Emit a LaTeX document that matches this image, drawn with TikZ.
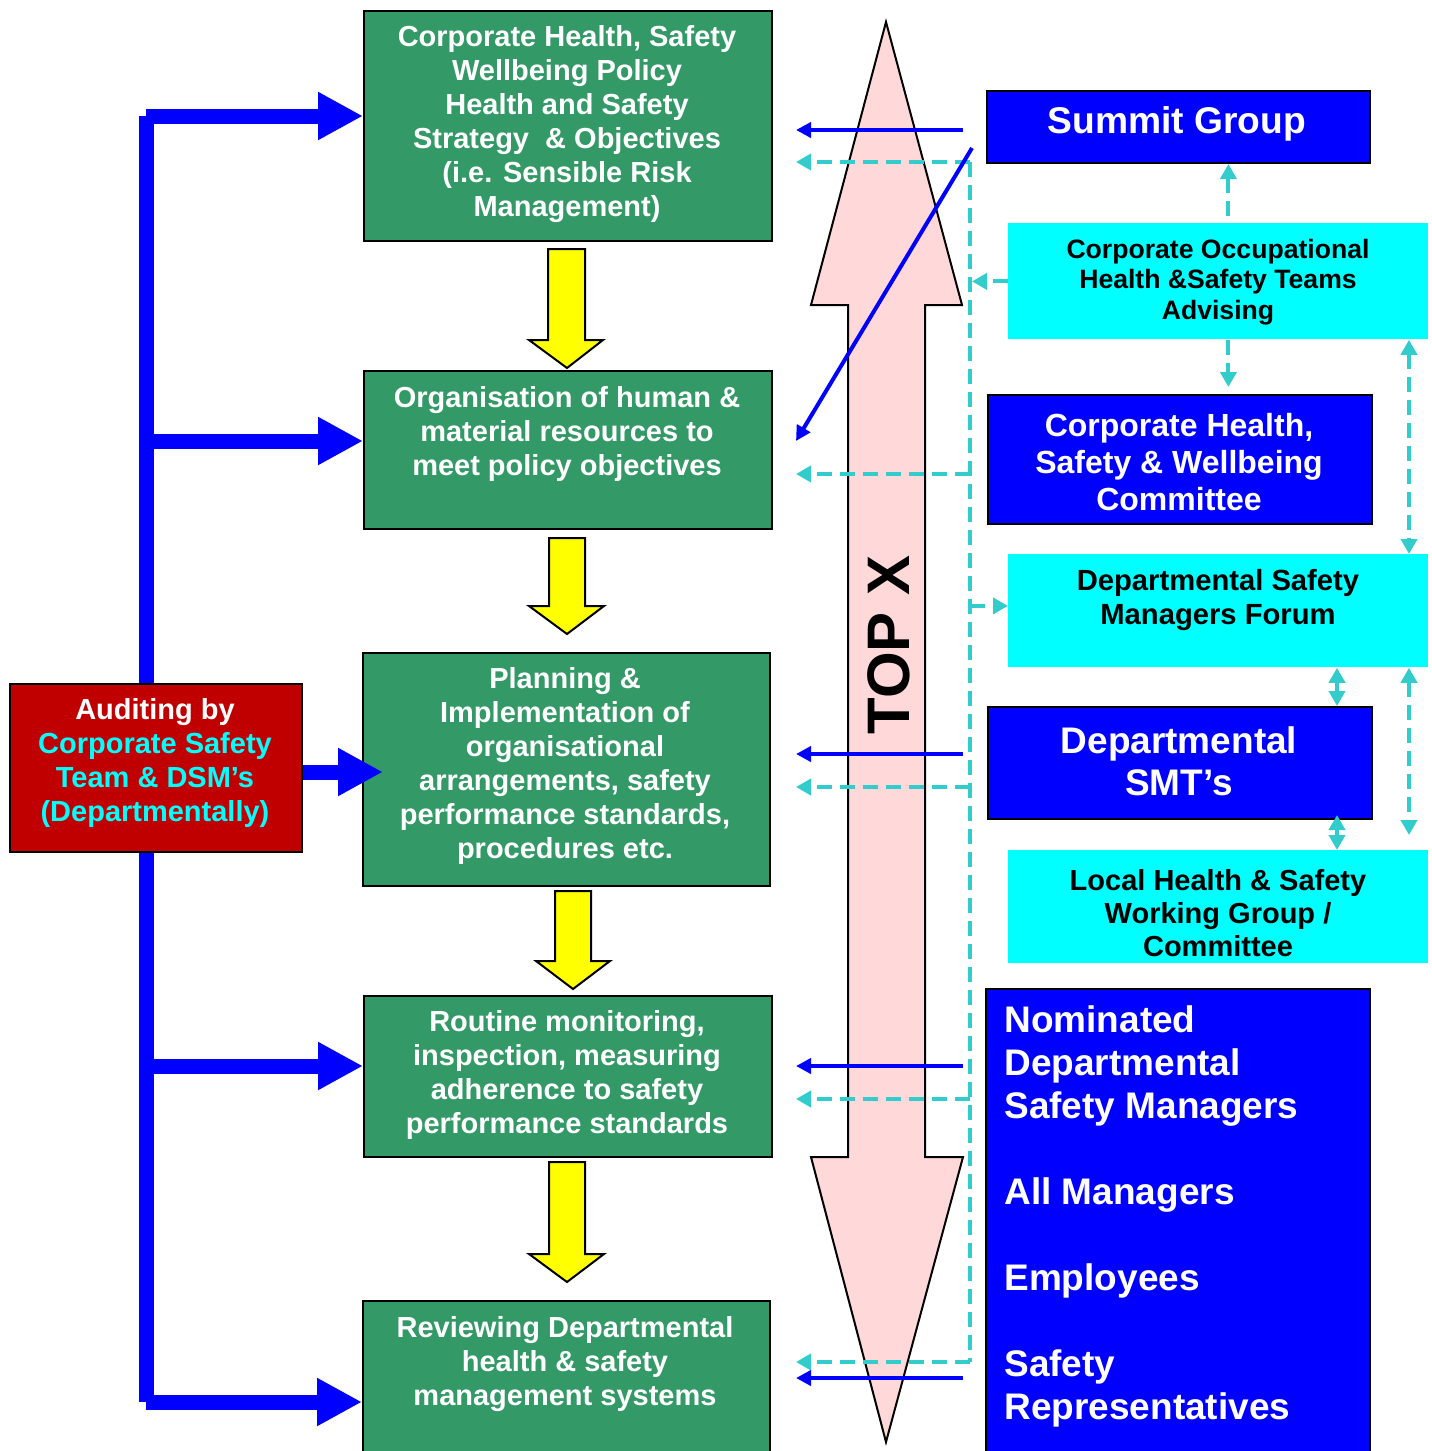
\documentclass[tikz,border=0pt]{standalone}
\usepackage{fontspec}
\setmainfont{Liberation Sans}
\usetikzlibrary{arrows.meta}
\definecolor{boxgreen}{HTML}{339966}
\definecolor{pinkfill}{HTML}{FFD9D9}
\definecolor{dashcyan}{HTML}{33CCCC}
\definecolor{auditred}{HTML}{C00000}
\definecolor{brightcyan}{HTML}{00FFFF}
\definecolor{pureblue}{HTML}{0000FF}
\definecolor{pureyellow}{HTML}{FFFF00}
\begin{document}
\begin{tikzpicture}[x=0.5pt,y=-0.5pt,
  gbox/.style={draw=black,line width=1pt,fill=boxgreen,anchor=north west,inner sep=0pt},
  bbox/.style={draw=black,line width=1pt,fill=pureblue,anchor=north west,inner sep=0pt},
  cbox/.style={fill=brightcyan,anchor=north west,inner sep=0pt},
  rbox/.style={draw=black,line width=1pt,fill=auditred,anchor=north west,inner sep=0pt},
  gtext/.style={text=white,font=\bfseries\fontsize{14.5}{17}\selectfont,align=center,inner sep=0pt},
  ctext/.style={text=black,align=center,inner sep=0pt},
  wtext/.style={text=white,align=center,inner sep=0pt},
  bigarrow/.style={draw=black,line width=1pt,fill=pinkfill},
  yarrow/.style={draw=black,line width=1pt,fill=pureyellow},
  bthick/.style={draw=pureblue,line width=7.5pt},
  barrow/.style={bthick,-{Triangle[length=22.5pt,width=22.5pt]}},
  bthin/.style={draw=pureblue,line width=2pt,-{Triangle[length=7.5pt,width=7.5pt]}},
  cdash/.style={draw=dashcyan,line width=2pt,dash pattern=on 7.5pt off 4pt},
  ctip/.tip={Triangle[length=7.5pt,width=8pt]}
]
\useasboundingbox (0,0) rectangle (1431,1451);

% big double arrow
\draw[bigarrow] (886,22) -- (962,305) -- (925,305) -- (925,1157) -- (963,1157) -- (886,1442)
  -- (811,1157) -- (848,1157) -- (848,305) -- (811,305) -- cycle;
\node[text=black,font=\bfseries\fontsize{30}{36}\selectfont,rotate=90,inner sep=0pt] (topx) at (889,645) {TOP X};

% green boxes
\node[gbox,minimum width=204pt,minimum height=115pt] (g1) at (363,10) {};
\node[gtext] (g1t) at (567,124) {Corporate Health, Safety\\Wellbeing Policy\\Health and Safety\\Strategy~ \& Objectives\\(i.e. Sensible Risk\\Management)};
\node[gbox,minimum width=204pt,minimum height=79pt] (g2) at (363,370) {};
\node[gtext] (g2t) at (567,434) {Organisation of human \&\\material resources to\\meet policy objectives};
\node[gbox,minimum width=203.5pt,minimum height=116.5pt] (g3) at (362,652) {};
\node[gtext] (g3t) at (565,766) {Planning \&\\Implementation of\\organisational\\arrangements, safety\\performance standards,\\procedures etc.};
\node[gbox,minimum width=204pt,minimum height=80.5pt] (g4) at (363,995) {};
\node[gtext] (g4t) at (567,1075) {Routine monitoring,\\inspection, measuring\\adherence to safety\\performance standards};
\node[gbox,minimum width=203.5pt,minimum height=82pt] (g5) at (362,1300) {};
\node[gtext] (g5t) at (565,1364) {Reviewing Departmental\\health \& safety\\management systems};

% red audit box
\node[rbox,minimum width=146pt,minimum height=84pt] (red) at (9,683) {};
\node[gtext] (redt) at (155,763) {Auditing by\\\textcolor{brightcyan}{Corporate Safety}\\\textcolor{brightcyan}{Team \& DSM’s}\\\textcolor{brightcyan}{(Departmentally)}};

% right column
\node[bbox,minimum width=191.5pt,minimum height=36pt] (summit) at (986,90) {};
\node[wtext,font=\bfseries\fontsize{18.6}{22}\selectfont] (summitt) at (1177,124) {Summit Group};
\node[cbox,minimum width=210pt,minimum height=58pt] (cyan1) at (1008,223) {};
\node[ctext,font=\bfseries\fontsize{13.3}{15.2}\selectfont] (cyan1t) at (1218,282) {Corporate Occupational\\Health \&Safety Teams\\Advising};
\node[bbox,minimum width=192pt,minimum height=64.5pt] (comm) at (987,394) {};
\node[wtext,font=\bfseries\fontsize{16}{18.5}\selectfont] (commt) at (1179,462) {Corporate Health,\\Safety \& Wellbeing\\Committee};
\node[cbox,minimum width=210pt,minimum height=56.5pt] (dsm) at (1008,554) {};
\node[ctext,font=\bfseries\fontsize{14.6}{17}\selectfont] (dsmt) at (1218,600) {Departmental Safety\\Managers Forum};
\node[bbox,minimum width=192pt,minimum height=56pt] (smt) at (987,706) {};
\node[wtext,font=\bfseries\fontsize{18.5}{21}\selectfont] (smtt) at (1179,761) {Departmental\\SMT’s};
\node[cbox,minimum width=210pt,minimum height=56.5pt] (local) at (1008,850) {};
\node[ctext,font=\bfseries\fontsize{14.5}{16.5}\selectfont] (localt) at (1218,913) {Local Health \& Safety\\Working Group /\\Committee};
\node[bbox,minimum width=192pt,minimum height=240pt] (nom) at (985,988) {};
\node[wtext,align=left,anchor=west,font=\bfseries\fontsize{18.5}{21.5}\selectfont] (nomt) at (1004,1216)
  {Nominated\\Departmental\\Safety Managers\\\mbox{}\\All Managers\\\mbox{}\\Employees\\\mbox{}\\Safety\\Representatives};

% yellow block arrows
\draw[yarrow] (548,249) -- (585,249) -- (585,340) -- (603,340) -- (567,368) -- (529,340) -- (548,340) -- cycle;
\draw[yarrow] (549,538) -- (585,538) -- (585,606) -- (604,606) -- (567,634) -- (529,606) -- (549,606) -- cycle;
\draw[yarrow] (555,891) -- (591,891) -- (591,961) -- (610,961) -- (573,989) -- (536,961) -- (555,961) -- cycle;
\draw[yarrow] (549,1162) -- (585,1162) -- (585,1254) -- (604,1254) -- (567,1282) -- (529,1254) -- (549,1254) -- cycle;

% left blue bracket
\coordinate (lt) at (146,116);
\coordinate (l2) at (146,441);
\coordinate (l4) at (146,1066);
\coordinate (lb) at (146,1402);
\draw[bthick] (lt) -- (lt |- red.north);
\draw[bthick] (lb) -- (lb |- red.south);
\draw[barrow] (lt) -- (lt -| g1.west);
\draw[barrow] (l2) -- (l2 -| g2.west);
\draw[barrow] (l4) -- (l4 -| g4.west);
\draw[barrow] (lb) -- (lb -| g5.west);
\draw[barrow] ([yshift=-2pt]red.east) -- ++(80,0);

% dashed cyan trunk and branches
\coordinate (tt) at (970,162);
\coordinate (tb) at (970,1362);
\draw[cdash] (tt) -- (tb);
\foreach \i/\y in {1/162,2/474,3/787,4/1099,5/1362}{
  \coordinate (bs\i) at (970,\y);
  \coordinate (be\i) at (796,\y);
  \draw[cdash,-{ctip}] (bs\i) -- (be\i);
}
\draw[cdash,-{ctip}] (cyan1.west) -- ([xshift=1pt]tt |- cyan1.west);
\draw[cdash,-{ctip}] ([yshift=2.5pt]tt |- dsm.west) -- ([yshift=2.5pt]dsm.west);

% dashed cyan on the right
\coordinate (rx) at (1409,0);
\coordinate (mx) at (1337,0);
\draw[cdash,{ctip}-] ([xshift=5pt]cyan1.north |- summit.south) -- ([xshift=5pt]cyan1.north);
\draw[cdash,-{ctip},shorten >=3.5pt] ([xshift=5pt]cyan1.south) -- ([xshift=5pt]cyan1.south |- comm.north);
\draw[cdash,{ctip}-{ctip}] (rx |- cyan1.south) -- (rx |- dsm.north);
\draw[cdash,{ctip}-{ctip},shorten >=7.5pt] (rx |- dsm.south) -- (rx |- local.north);
\draw[cdash,{ctip}-{ctip}] (mx |- dsm.south) -- (mx |- smt.north);
\draw[cdash,{ctip}-{ctip},shorten <=-2.5pt] (mx |- smt.south) -- (mx |- local.north);

% thin blue arrows
\foreach \i/\y in {1/130,2/754,3/1066,4/1378}{
  \coordinate (as\i) at (963,\y);
  \coordinate (ae\i) at (796,\y);
  \draw[bthin] (as\i) -- (ae\i);
}
\coordinate (ds) at (972,148);
\coordinate (de) at (796,441);
\draw[bthin] (ds) -- (de);
\end{tikzpicture}
\end{document}
